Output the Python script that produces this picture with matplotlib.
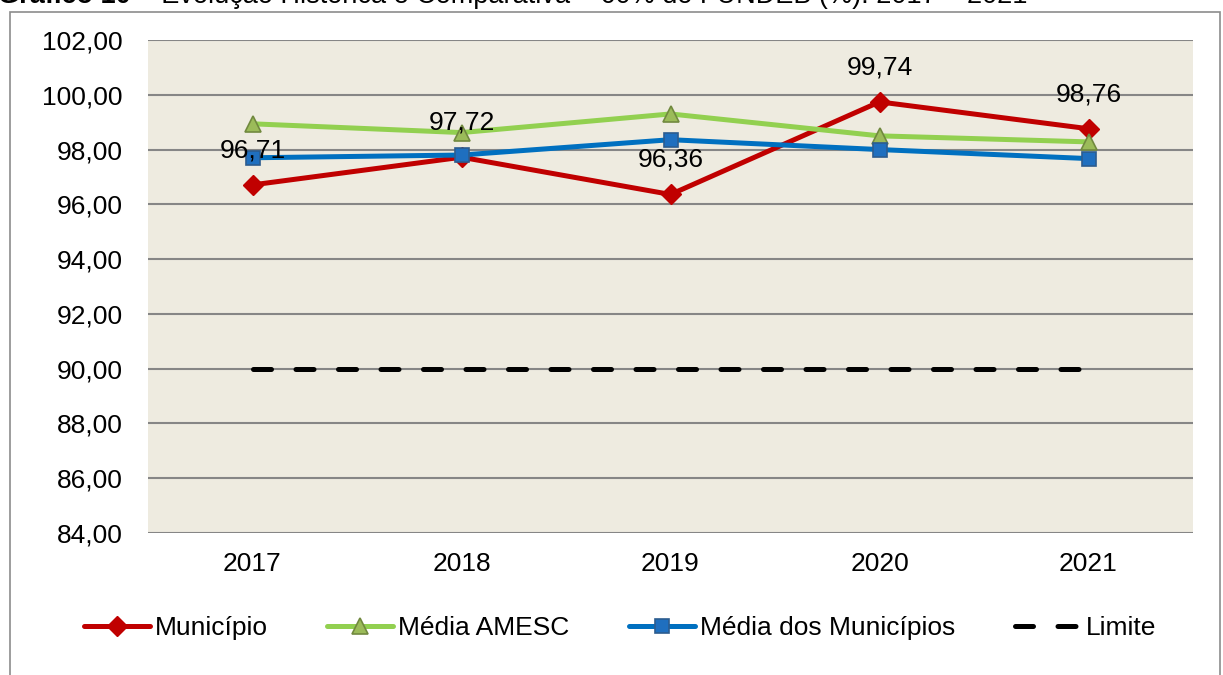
import numpy as np
import matplotlib
matplotlib.use('Agg')
import matplotlib.pyplot as plt
from matplotlib.patches import Rectangle

plt.rcParams.update({
    'font.family': 'sans-serif', 'font.sans-serif': ['Liberation Sans', 'DejaVu Sans'],
    'font.size': 19,
})

# ── Data ──
years = ['2017', '2018', '2019', '2020', '2021']
municipio = [96.71, 97.72, 96.36, 99.74, 98.76]
media_amesc = [98.94, 98.62, 99.30, 98.50, 98.28]
media_municipios = [97.70, 97.80, 98.36, 98.00, 97.67]
limite = [90.0, 90.0, 90.0, 90.0, 90.0]
yticks = np.arange(84, 103, 2)

W, H = 1223, 675
fig = plt.figure(figsize=(W / 100, H / 100), dpi=100)
fig.patch.set_facecolor('white')

# outer chart frame (cut at bottom)
fig.patches.append(Rectangle((10 / W, -0.05), 1210 / W, 0.05 + (H - 12) / H,
                             transform=fig.transFigure, fill=False,
                             edgecolor='#8c8c8c', linewidth=1.2))

ax = fig.add_axes([148 / W, (H - 533) / H, (1193 - 148) / W, (533 - 40) / H])
ax.set_facecolor('#EEEBE0')
x = np.arange(len(years))

line_kw = dict(lw=3.6, solid_capstyle='round', solid_joinstyle='round')
ax.plot(x, limite, color='black', lw=3.6, dashes=(3.6, 4.9),
        dash_capstyle='round', label='Limite', zorder=3)
ax.plot(x, municipio, color='#C00000', marker='D', ms=10,
        mfc='#C00000', mec='#C00000', label='Município', zorder=4, **line_kw)
ax.plot(x, media_amesc, color='#92D050', marker='^', ms=11,
        mfc='#9BBB59', mec='#71893F', mew=1.2, label='Média AMESC', zorder=5, **line_kw)
ax.plot(x, media_municipios, color='#0070C0', marker='s', ms=10,
        mfc='#1F6FBF', mec='#2C5C8F', mew=1.2, label='Média dos Municípios',
        zorder=6, **line_kw)

for xi, v in zip(x, municipio):
    ax.annotate(f'{v:.2f}'.replace('.', ','), (xi, v), xytext=(0, 25),
                textcoords='offset points', ha='center', va='center',
                fontsize=19, zorder=7)

ax.set_xlim(-0.5, 4.5)
ax.set_ylim(84, 102)
ax.set_yticks(yticks)
ax.set_yticklabels([f'{t:.2f}'.replace('.', ',') for t in yticks])
ax.set_xticks(x)
ax.set_xticklabels(years)
ax.yaxis.grid(True, color='#868686', lw=1.5)
ax.set_axisbelow(True)
ax.tick_params(axis='both', length=0, labelsize=19)
ax.tick_params(axis='y', pad=18)
ax.tick_params(axis='x', pad=14)
for s in ax.spines.values():
    s.set_visible(False)

# legend order as in the reference
h, l = ax.get_legend_handles_labels()
order = [1, 2, 3, 0]
fig.legend([h[i] for i in order], [l[i] for i in order], loc='center',
           bbox_to_anchor=(0.507, 1 - 628 / H), ncol=4, frameon=False,
           fontsize=19, handlelength=2.5, handletextpad=0.2,
           columnspacing=2.25, numpoints=1)

# title (cropped at top of the image, as in the reference)
t1 = fig.text(-2 / W, 1 - 3 / H, 'Gráfico 10', fontsize=19.5, fontweight='bold',
              va='baseline', ha='left')
fig.canvas.draw()
bb = t1.get_window_extent()
fig.text(bb.x1 / W, 1 - 3 / H,
         ' – Evolução Histórica e Comparativa – 60% do FUNDEB (%): 2017 – 2021',
         fontsize=19.5, va='baseline', ha='left')

fig.savefig('out.png', dpi=100, facecolor='white')
